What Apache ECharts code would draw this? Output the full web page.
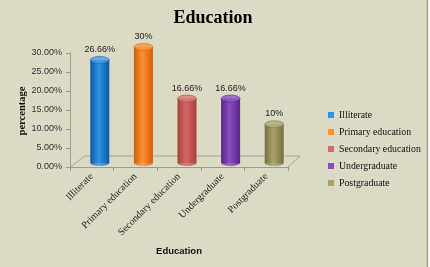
<!DOCTYPE html>
<html>
<head>
<meta charset="utf-8">
<script src="https://cdn.jsdelivr.net/npm/echarts@6/dist/echarts.min.js"></script>
<style>
  html, body { margin: 0; padding: 0; background: #fff; }
  #chart { width: 430px; height: 267px; }
</style>
</head>
<body>
<div id="chart"></div>
<script>
'use strict';

// data
const categories = ['Illiterate', 'Primary education', 'Secondary education', 'Undergraduate', 'Postgraduate'];
const values = [26.66, 30, 16.66, 16.66, 10];
const valueLabels = ['26.66%', '30%', '16.66%', '16.66%', '10%'];
const yTicks = [0, 5, 10, 15, 20, 25, 30];

// cylinder shading: [dark edge, light middle, top cap]
const shades = [
    ['#0a5aa6', '#3193e2', '#4a9fe0'],
    ['#d55c04', '#ff9233', '#f79a45'],
    ['#a63f3d', '#d46a68', '#d87a78'],
    ['#5a228c', '#8a4cc2', '#9058c4'],
    ['#73703d', '#a6a36e', '#b0ad7c']
];

const serif = '"Liberation Serif", "Times New Roman", serif';
const sans = '"Liberation Sans", Arial, sans-serif';

function cylinder(s) {
    return new echarts.graphic.LinearGradient(0, 0, 1, 0, [
        {offset: 0, color: s[0]},
        {offset: 0.45, color: s[1]},
        {offset: 1, color: s[0]}
    ]);
}

const chart = echarts.init(document.getElementById('chart'), null, {renderer: 'canvas'});

const barSeries = categories.map((name, i) => ({
    name: name,
    type: 'bar',
    xAxisIndex: 1,
    yAxisIndex: 1,
    barWidth: 19,
    barGap: '-100%',
    z: 3,
    itemStyle: {color: cylinder(shades[i])},
    label: {
        show: true,
        position: 'top',
        distance: 6,
        fontFamily: sans,
        fontSize: 9,
        color: '#222',
        formatter: () => valueLabels[i]
    },
    data: values.map((v, j) => (j === i ? v : '-'))
}));

const option = {
    backgroundColor: '#dcd9c5',
    animation: false,
    title: {
        text: 'Education',
        left: 208,
        top: 4,
        textAlign: 'center',
        textStyle: {fontFamily: serif, fontWeight: 'bold', fontSize: 18, color: '#000'}
    },
    legend: {
        orient: 'vertical',
        left: 323,
        top: 104,
        itemWidth: 6,
        itemHeight: 6,
        itemGap: 5,
        icon: 'rect',
        textStyle: {fontFamily: serif, fontSize: 9.8, color: '#111', lineHeight: 12},
        data: categories.map((name, i) => ({name: name, itemStyle: {color: shades[i][1]}}))
    },
    grid: [
        {left: 70, right: 142, top: 53, bottom: 100},
        {left: 78, right: 134, top: 47, bottom: 104}
    ],
    xAxis: [
        {
            type: 'category',
            gridIndex: 0,
            data: categories,
            name: 'Education',
            nameLocation: 'middle',
            nameGap: 79,
            nameTextStyle: {fontFamily: sans, fontWeight: 'bold', fontSize: 9.5, color: '#111'},
            axisLine: {lineStyle: {color: '#9c9c94'}},
            axisTick: {show: true, length: 4, lineStyle: {color: '#9c9c94'}},
            axisLabel: {rotate: 45, margin: 8, fontFamily: serif, fontSize: 10, color: '#222'}
        },
        {type: 'category', gridIndex: 1, data: categories, show: false}
    ],
    yAxis: [
        {
            type: 'value',
            gridIndex: 0,
            min: yTicks[0],
            max: yTicks[yTicks.length - 1],
            interval: 5,
            axisLine: {show: true, lineStyle: {color: '#9c9c94'}},
            axisTick: {show: true, length: 4, lineStyle: {color: '#9c9c94'}},
            splitLine: {show: false},
            axisLabel: {
                margin: 8,
                fontFamily: sans,
                fontSize: 9,
                color: '#333',
                formatter: v => v.toFixed(2) + '%'
            }
        },
        {type: 'value', gridIndex: 1, min: 0, max: 30, show: false}
    ],
    series: barSeries.concat([
        {
            // rounded bottoms of the cylinders
            name: 'bottoms',
            type: 'scatter',
            xAxisIndex: 1,
            yAxisIndex: 1,
            symbol: 'circle',
            symbolSize: [19, 6],
            z: 2,
            silent: true,
            data: values.map((v, i) => ({value: 0, itemStyle: {color: cylinder(shades[i])}}))
        },
        {
            // top caps
            name: 'tops',
            type: 'scatter',
            xAxisIndex: 1,
            yAxisIndex: 1,
            symbol: 'circle',
            symbolSize: [19, 7],
            z: 4,
            silent: true,
            data: values.map((v, i) => ({value: v, itemStyle: {color: shades[i][2], borderColor: shades[i][0], borderWidth: 0.6}}))
        }
    ]),
    graphic: [
        {
            // y axis title, placed by hand (axis name kept getting pushed left)
            type: 'text',
            x: 22,
            y: 111,
            rotation: Math.PI / 2,
            style: {
                text: 'percentage',
                font: 'bold 10.5px ' + serif,
                fill: '#111',
                align: 'center',
                verticalAlign: 'middle'
            }
        },
        {
            // 3D floor outline
            type: 'polyline',
            z: 1,
            shape: {points: [[70, 167], [85, 156], [300, 156], [288, 167]]},
            style: {stroke: '#a4a49a', lineWidth: 1, fill: null}
        },
        {
            type: 'rect',
            shape: {x: 427, y: 0, width: 3, height: 267},
            style: {fill: '#ffffff'}
        },
        {
            type: 'line',
            shape: {x1: 427.5, y1: 0, x2: 427.5, y2: 267},
            style: {stroke: '#9c9c92', lineWidth: 1.5}
        }
    ]
};

chart.setOption(option);
</script>
</body>
</html>
